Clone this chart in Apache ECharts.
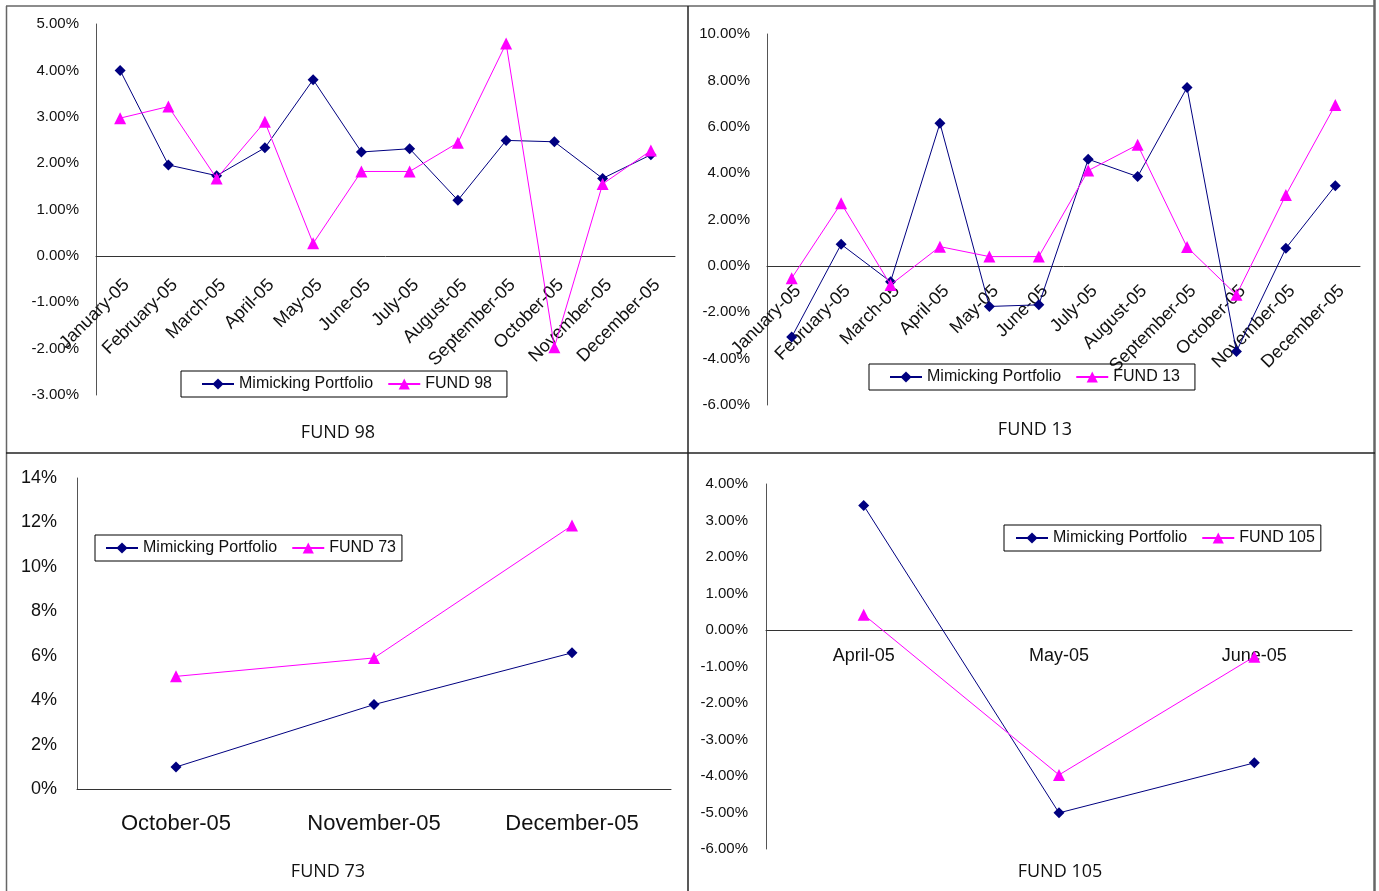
<!DOCTYPE html>
<html>
<head>
<meta charset="utf-8">
<script src="https://cdn.jsdelivr.net/npm/echarts@6/dist/echarts.min.js"></script>
<style>
  html, body { margin: 0; padding: 0; background: #fff; }
  #chart { width: 1379px; height: 891px; }
</style>
</head>
<body>
<div id="chart"></div>
<script>
// Monthly returns (%) of each fund against its mimicking portfolio, 2005
const monthsFull = ['January-05', 'February-05', 'March-05', 'April-05', 'May-05', 'June-05',
  'July-05', 'August-05', 'September-05', 'October-05', 'November-05', 'December-05'];
const monthsQ4 = ['October-05', 'November-05', 'December-05'];
const monthsQ2 = ['April-05', 'May-05', 'June-05'];

const fund98Mimic = [4.00, 1.96, 1.73, 2.33, 3.80, 2.24, 2.31, 1.20, 2.49, 2.46, 1.67, 2.18];
const fund98 = [2.97, 3.22, 1.67, 2.89, 0.27, 1.82, 1.82, 2.44, 4.58, -1.97, 1.55, 2.27];

const fund13Mimic = [-3.07, 0.93, -0.68, 6.15, -1.75, -1.68, 4.60, 3.85, 7.69, -3.69, 0.76, 3.46];
const fund13 = [-0.53, 2.70, -0.82, 0.83, 0.40, 0.40, 4.11, 5.22, 0.81, -1.25, 3.06, 6.94];

const fund73Mimic = [0.99, 3.80, 6.13];
const fund73 = [5.07, 5.90, 11.86];

const fund105Mimic = [3.41, -5.01, -3.64];
const fund105 = [0.42, -3.97, -0.73];

// y-axis ranges per panel: [min, max, interval]
const range98 = [-3, 5, 1];
const range13 = [-6, 10, 2];
const range73 = [0, 14, 2];
const range105 = [-6, 4, 1];

const MIMIC = 'Mimicking Portfolio';
const NAVY = '#000080';
const PINK = '#FF00FF';
const FONT = 'Liberation Sans, Arial, sans-serif';

const pct2 = v => v.toFixed(2) + '%';
const pct0 = v => v.toFixed(0) + '%';

// plot areas of the four panels
const grids = [
  { left: 96, top: 24, width: 579, height: 371 },
  { left: 767, top: 34, width: 593, height: 371 },
  { left: 77, top: 478, width: 594, height: 311 },
  { left: 766, top: 484, width: 586, height: 365 }
];

function yAxis(gridIndex, range, fmt, fontSize, margin) {
  return {
    type: 'value', gridIndex, min: range[0], max: range[1], interval: range[2],
    axisLine: { show: true, lineStyle: { color: '#555', width: 1 } },
    axisTick: { show: false },
    splitLine: { show: false },
    axisLabel: { formatter: fmt, fontSize, margin, color: '#111', fontFamily: FONT }
  };
}

// category axis drawn across the zero level of the value axis, labels just below it
function xAxis(gridIndex, data, range, labelOpts) {
  const h = grids[gridIndex].height;
  const zeroOffset = -h * (0 - range[0]) / (range[1] - range[0]);
  return {
    type: 'category', gridIndex, data, boundaryGap: true, position: 'bottom',
    offset: zeroOffset,
    axisLine: { onZero: false, lineStyle: { color: '#333', width: 1 } },
    axisTick: { show: false },
    splitLine: { show: false },
    axisLabel: Object.assign({ interval: 0, color: '#111', fontFamily: FONT }, labelOpts)
  };
}

function pair(idx, mimic, fund, fundName) {
  const base = { type: 'line', xAxisIndex: idx, yAxisIndex: idx, animation: false, z: 3 };
  return [
    Object.assign({}, base, {
      name: MIMIC, data: mimic, symbol: 'diamond', symbolSize: 11,
      itemStyle: { color: NAVY }, lineStyle: { color: NAVY, width: 1 }
    }),
    Object.assign({}, base, {
      name: fundName, data: fund, symbol: 'triangle', symbolSize: 12, z: 4,
      itemStyle: { color: PINK }, lineStyle: { color: PINK, width: 1 }
    })
  ];
}

function legend(left, top, fundName, padding) {
  return {
    left, top, orient: 'horizontal',
    data: [MIMIC, fundName],
    itemWidth: 32, itemHeight: 14, itemGap: 14,
    padding,
    borderColor: '#000', borderWidth: 1,
    selectedMode: false,
    textStyle: { fontSize: 16, color: '#111', fontFamily: FONT }
  };
}

function titleText(x, y, text) {
  return {
    type: 'text', x, y,
    style: {
      text, fill: '#111', fontSize: 18, fontFamily: 'Open Sans, Liberation Sans, sans-serif',
      align: 'center', verticalAlign: 'middle'
    }
  };
}

function rule(x1, y1, x2, y2, color, width) {
  return { type: 'line', shape: { x1, y1, x2, y2 }, style: { stroke: color, lineWidth: width }, silent: true };
}

const slanted = { rotate: 45, fontSize: 18, align: 'right', verticalAlign: 'top' };

const option = {
  animation: false,
  backgroundColor: '#fff',
  grid: grids.map(g => Object.assign({ outerBoundsMode: 'none' }, g)),
  xAxis: [
    xAxis(0, monthsFull, range98, Object.assign({ margin: 20 }, slanted)),
    xAxis(1, monthsFull, range13, Object.assign({ margin: 16 }, slanted)),
    xAxis(2, monthsQ4, range73, { fontSize: 22, margin: 24 }),
    xAxis(3, monthsQ2, range105, { fontSize: 18, margin: 17 })
  ],
  yAxis: [
    yAxis(0, range98, pct2, 15, 17),
    yAxis(1, range13, pct2, 15, 17),
    yAxis(2, range73, pct0, 18, 20),
    yAxis(3, range105, pct2, 15, 18)
  ],
  legend: [
    legend(181, 371, 'FUND 98', [5, 15, 5, 20]),
    legend(869, 364, 'FUND 13', [5, 15, 5, 20]),
    legend(95, 535, 'FUND 73', [5, 6, 5, 10]),
    legend(1004, 525, 'FUND 105', [5, 6, 5, 11])
  ],
  series: [].concat(
    pair(0, fund98Mimic, fund98, 'FUND 98'),
    pair(1, fund13Mimic, fund13, 'FUND 13'),
    pair(2, fund73Mimic, fund73, 'FUND 73'),
    pair(3, fund105Mimic, fund105, 'FUND 105')
  ),
  graphic: [
    // panel frames
    rule(6, 6, 1375, 6, '#666', 1.5),
    rule(6.5, 6, 6.5, 891, '#666', 1.5),
    rule(1374.5, 0, 1374.5, 891, '#666', 2.5),
    rule(688, 6, 688, 891, '#222', 1.5),
    rule(6, 453, 1375, 453, '#222', 1.5),
    // panel captions
    titleText(338, 433, 'FUND 98'),
    titleText(1035, 430, 'FUND 13'),
    titleText(328, 872, 'FUND 73'),
    titleText(1060, 872, 'FUND 105')
  ]
};

const chart = echarts.init(document.getElementById('chart'), null, { renderer: 'canvas' });
chart.setOption(option);
</script>
</body>
</html>
